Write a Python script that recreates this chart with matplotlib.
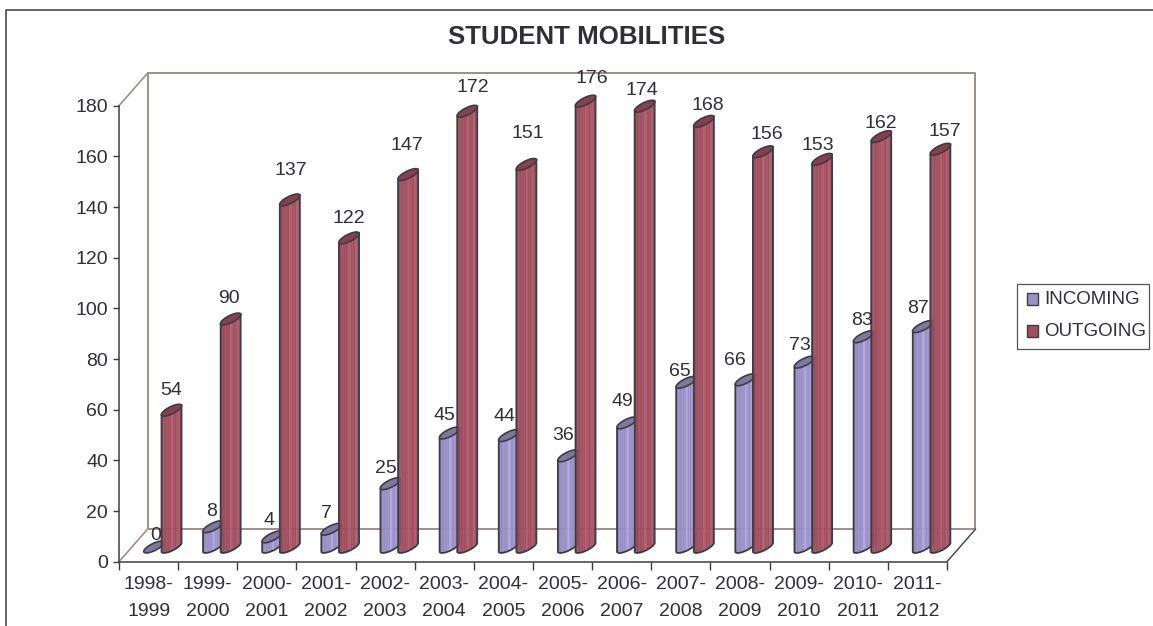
import numpy as np
import matplotlib
matplotlib.use('Agg')
import matplotlib.pyplot as plt
from matplotlib.colors import to_rgb

plt.rcParams['font.family'] = ['Liberation Sans', 'DejaVu Sans']

years = ['1998-\n1999', '1999-\n2000', '2000-\n2001', '2001-\n2002', '2002-\n2003', '2003-\n2004', '2004-\n2005',
         '2005-\n2006', '2006-\n2007', '2007-\n2008', '2008-\n2009', '2009-\n2010', '2010-\n2011', '2011-\n2012']
incoming = [0, 8, 4, 7, 25, 45, 44, 36, 49, 65, 66, 73, 83, 87]
outgoing = [54, 90, 137, 122, 147, 172, 151, 176, 174, 168, 156, 153, 162, 157]

# label nudges in pixels, the labels in the original sit a bit off centre
in_dx = [2, -1, -3, -5, -5, -5, -4, -5, -5, -6, -10, -5, -2, -5]
in_dy = [12, 15, 16, 16, 15, 18, 19, 20, 21, 11, 19, 17, 16, 18]
out_dx = [0, -2, 1, 0, -1, 6, 1, 6, -3, 4, 4, -4, 0, 4]
out_dy = [20, 21, 29, 19, 29, 24, 31, 23, 16, 16, 17, 14, 13, 18]

W, H = 1153, 626
fig = plt.figure(figsize=(W / 100, H / 100), dpi=100)
ax = fig.add_axes([119 / W, (H - 561.7) / H, 828 / W, 456 / H])
ax.set_xlim(0, 14)
ax.set_ylim(0, 180)

px_x = 14 / 828
px_y = 180 / 456
wall = '#9c8f8c'
edge = '#3c3c46'
text_col = '#2f2f34'

# back wall and floor of the fake 3d box
dx3, dy3 = 28.5 * px_x, 32.5 * px_y
ax.plot([dx3, dx3, 14 + dx3, 14 + dx3, dx3], [dy3, 180 + dy3, 180 + dy3, dy3, dy3], color=wall, lw=1.4, clip_on=False, zorder=1)
ax.plot([0, dx3], [180, 180 + dy3], color=wall, lw=1.2, clip_on=False, zorder=1)
ax.plot([0, dx3], [0, dy3], color=wall, lw=1.2, clip_on=False, zorder=1)
ax.plot([14, 14 + dx3], [0, dy3], color=edge, lw=1.0, clip_on=False, zorder=1)


def ellipse(cx, cy, t):
    # slanted ellipse, returned in data units
    ex = 10 * np.cos(t) + 1.6 * np.sin(t)
    ey = 5 * np.cos(t) - 3.2 * np.sin(t)
    return cx + ex * px_x, cy + ey * px_y


def cylinder(cx, value, side, top, z):
    base = 5.8
    peak = base + value
    # side shading, a few narrow strips from the left to the right
    ts = np.linspace(np.pi, 0, 19)
    shade = [0.9, 0.93, 0.95, 0.97, 0.98, 0.99, 1.0, 1.0, 1.16, 1.02, 1.0, 1.0, 1.14, 1.02, 1.0, 0.98, 0.96, 0.93]
    rgb = np.array(to_rgb(side))
    if value > 0:
        for k in range(18):
            tt = np.linspace(ts[k], ts[k + 1], 4)
            x0, y0 = ellipse(cx, base, tt)
            x1, y1 = ellipse(cx, peak, tt)
            c = np.clip(rgb * shade[k], 0, 1)
            ax.fill(np.r_[x0, x1[::-1]], np.r_[y0, y1[::-1]], color=c, lw=0.3, clip_on=False, zorder=z)
        t = np.linspace(np.pi, 0, 40)
        x0, y0 = ellipse(cx, base, t)
        x1, y1 = ellipse(cx, peak, t)
        ax.plot(np.r_[x1[0], x0, x1[-1]], np.r_[y1[0], y0, y1[-1]], color=edge, lw=1.3, clip_on=False, zorder=z + 0.1)
    t = np.linspace(0, 2 * np.pi, 60)
    x1, y1 = ellipse(cx, peak, t)
    ax.fill(x1, y1, facecolor=top, edgecolor=edge, lw=1.2, clip_on=False, zorder=z + 0.2)


for i in range(len(years)):
    cylinder(i + 0.59, incoming[i], '#9a91c6', '#7f789c', 3 + i * 0.01)
    cylinder(i + 0.888, outgoing[i], '#a04f5f', '#86404f', 4 + i * 0.01)

for i in range(len(years)):
    ax.annotate(str(incoming[i]), (i + 0.59, 5.8 + incoming[i]), xytext=(in_dx[i], in_dy[i]), annotation_clip=False,
                textcoords='offset pixels', ha='center', va='center', fontsize=14, color=text_col, zorder=6)
    ax.annotate(str(outgoing[i]), (i + 0.888, 5.8 + outgoing[i]), xytext=(out_dx[i], out_dy[i]), annotation_clip=False,
                textcoords='offset pixels', ha='center', va='center', fontsize=14, color=text_col, zorder=6)

for s in ['top', 'right']:
    ax.spines[s].set_visible(False)
for s in ['left', 'bottom']:
    ax.spines[s].set_color(edge)
    ax.spines[s].set_linewidth(1.1)
ax.patch.set_visible(False)

ax.set_yticks(range(0, 181, 20))
ax.tick_params(axis='y', length=4, width=1, color=edge, labelsize=14, labelcolor=text_col, pad=4)
ax.set_xticks(range(15))
ax.set_xticklabels([])
ax.tick_params(axis='x', length=6, width=1, color=edge)
ax.set_xticks(np.arange(14) + 0.5, minor=True)
ax.set_xticklabels(years, minor=True, fontsize=14, color=text_col, linespacing=1.72)
ax.tick_params(axis='x', which='minor', length=0, pad=10.5)

fig.text(587 / W, 1 - 36.5 / H, 'STUDENT MOBILITIES', ha='center', va='center', fontsize=18.6, fontweight='bold', color=text_col)

# outer frame of the chart, only top and left show in the crop
fig.add_artist(plt.Line2D([6 / W, 6 / W, 1], [0, 1 - 9.5 / H, 1 - 9.5 / H], color='#3a3a3a', lw=1.1))

# legend box
fig.add_artist(plt.Rectangle((1017 / W, 1 - 349 / H), 132 / W, 65 / H, facecolor='white', edgecolor='#555555', lw=0.9))
for name, col, yy in [('INCOMING', '#9a91c6', 299), ('OUTGOING', '#a04f5f', 331)]:
    fig.add_artist(plt.Rectangle((1027 / W, 1 - (yy + 6) / H), 11 / W, 12 / H, facecolor=col, edgecolor=edge, lw=1))
    fig.text(1044 / W, 1 - yy / H, name, ha='left', va='center', fontsize=13.5, color=text_col)

fig.savefig('out.png', dpi=100)
